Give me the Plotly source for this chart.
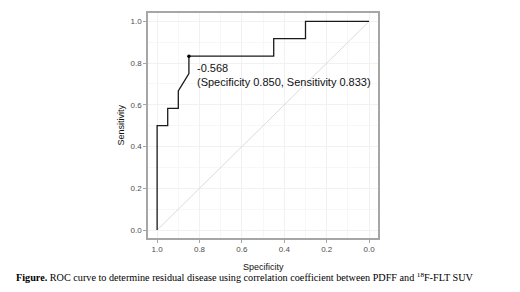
import plotly.graph_objects as go

# ROC curve data (specificity on reversed x axis)
specificity = [1.0, 1.0, 0.95, 0.95, 0.90, 0.90, 0.85, 0.85, 0.45, 0.45, 0.30, 0.30, 0.0]
sensitivity = [0.0, 0.5, 0.5, 0.583, 0.583, 0.667, 0.75, 0.833, 0.833, 0.917, 0.917, 1.0, 1.0]

# chance diagonal
diag_x = [1.0, 0.0]
diag_y = [0.0, 1.0]

# best cut-off point
cut_spec = [0.850]
cut_sens = [0.833]
cut_label = "-0.568<br>(Specificity 0.850, Sensitivity 0.833)"

tick_vals = [0.0, 0.2, 0.4, 0.6, 0.8, 1.0]
tick_text = ["0.0", "0.2", "0.4", "0.6", "0.8", "1.0"]

# The page body has an 8px default margin; the figure is sized to fit inside.
W, H = 512, 284
ML, MR, MT, MB = 140, 142, 3, 54
PW, PH = W - ML - MR, H - MT - MB

fig = go.Figure()
fig.add_trace(go.Scatter(x=diag_x, y=diag_y, mode="lines",
                         line=dict(color="#dcdcdc", width=1), hoverinfo="skip"))
fig.add_trace(go.Scatter(x=specificity, y=sensitivity, mode="lines",
                         line=dict(color="#1a1a1a", width=1.3)))
fig.add_trace(go.Scatter(x=cut_spec, y=cut_sens, mode="markers",
                         marker=dict(color="black", size=3.5)))

fig.add_annotation(x=0.82, y=0.742, xref="x", yref="y", text=cut_label,
                   showarrow=False, xanchor="left", yanchor="middle", align="left",
                   font=dict(family="Liberation Sans, Arial", size=11, color="#111111"))

axis_common = dict(
    showline=True, mirror=True, linecolor="#a6a6a6", linewidth=1.5,
    ticks="outside", ticklen=3, tickcolor="#a6a6a6", tickwidth=1,
    showgrid=True, gridcolor="#f1f1f1", gridwidth=1,
    minor=dict(showgrid=True, gridcolor="#f7f7f7", dtick=0.1, ticks=""),
    zeroline=False,
    tickvals=tick_vals, ticktext=tick_text,
    tickfont=dict(family="Liberation Sans, Arial", size=8, color="#4d4d4d"),
)

fig.update_xaxes(range=[1.043, -0.042], **axis_common)
fig.update_yaxes(range=[-0.038, 1.040], **axis_common)

# axis titles
fig.add_annotation(x=0.5, y=(MT + PH - 259) / PH, xref="paper", yref="paper", text="Specificity",
                   showarrow=False, xanchor="center", yanchor="middle",
                   font=dict(family="Liberation Sans, Arial", size=9, color="#111111"))
fig.add_annotation(x=(112 - ML) / PW, y=0.5, xref="paper", yref="paper", text="Sensitivity",
                   showarrow=False, textangle=-90, xanchor="center", yanchor="middle",
                   font=dict(family="Liberation Sans, Arial", size=9, color="#111111"))

# caption
fig.add_annotation(x=(6 - ML) / PW, y=(MT + PH - 269) / PH, xref="paper", yref="paper",
                   text="<b>Figure.</b> ROC curve to determine residual disease using correlation coefficient between PDFF and <sup>18</sup>F-FLT SUV",
                   showarrow=False, xanchor="left", yanchor="middle",
                   font=dict(family="Liberation Serif, Times New Roman", size=10.2, color="black"))

fig.update_layout(
    width=W, height=H,
    margin=dict(l=ML, r=MR, t=MT, b=MB),
    paper_bgcolor="white", plot_bgcolor="white",
    showlegend=False,
)

fig.write_html("out.html")
